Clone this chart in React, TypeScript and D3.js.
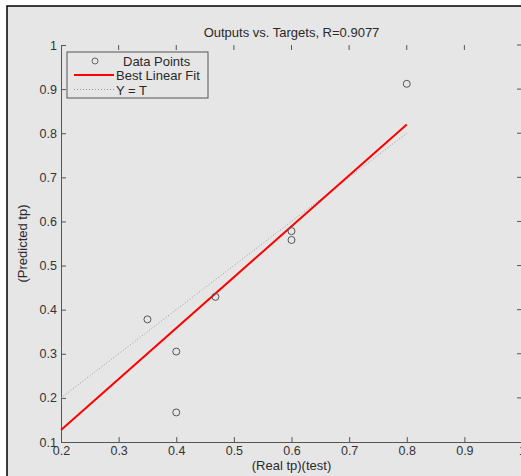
import React, { useEffect, useRef } from 'react';
import * as d3 from 'd3';

// targets (x) and network outputs (y)
const targets = [0.35, 0.4, 0.4, 0.468, 0.6, 0.6, 0.8];
const outputs = [0.378, 0.305, 0.167, 0.429, 0.578, 0.558, 0.912];
// best linear fit, end points
const fitX = [0.2, 0.8];
const fitY = [0.127, 0.82];
// Y = T reference
const idealX = [0.2, 0.8];
const xTicks = [0.2, 0.3, 0.4, 0.5, 0.6, 0.7, 0.8, 0.9, 1];
const yTicks = [0.1, 0.2, 0.3, 0.4, 0.5, 0.6, 0.7, 0.8, 0.9, 1];

const W = 521;
const H = 476;
const FONT = "'Liberation Sans', Arial, sans-serif";

function App() {
  const ref = useRef<SVGSVGElement>(null);

  useEffect(() => {
    const svg = d3.select(ref.current);
    svg.selectAll('*').remove();

    const margin = { top: 45, right: 0, bottom: 34, left: 61 };
    const x = d3.scaleLinear().domain([0.2, 1]).range([margin.left, W - margin.right + 1]);
    const y = d3.scaleLinear().domain([0.1, 1]).range([H - margin.bottom, margin.top]);

    // figure background + border
    svg.append('rect').attr('x', 7).attr('y', 6).attr('width', W).attr('height', H)
      .attr('fill', '#e6e6e6').attr('stroke', '#000').attr('stroke-width', 1.5);

    const axisCol = '#555';
    const fmt = (d: number) => (d === 1 ? '1' : d3.format('.1f')(d));

    // bottom axis
    const gx = svg.append('g').attr('transform', `translate(0,${y(0.1)})`)
      .call(d3.axisBottom(x).tickValues(xTicks).tickFormat(fmt as any).tickSizeInner(-5).tickSizeOuter(0).tickPadding(4));
    gx.select('.domain').attr('stroke', axisCol);
    gx.selectAll('.tick line').attr('stroke', axisCol);
    gx.selectAll('text').attr('fill', '#333').style('font-family', FONT).style('font-size', '12.5px');

    // left axis
    const gy = svg.append('g').attr('transform', `translate(${x(0.2)},0)`)
      .call(d3.axisLeft(y).tickValues(yTicks).tickFormat(fmt as any).tickSizeInner(-5).tickSizeOuter(0).tickPadding(4));
    gy.select('.domain').attr('stroke', axisCol);
    gy.selectAll('.tick line').attr('stroke', axisCol);
    gy.selectAll('text').attr('fill', '#333').style('font-family', FONT).style('font-size', '12.5px');

    // top ticks (no line)
    svg.append('g').selectAll('line').data(xTicks.slice(1)).enter().append('line')
      .attr('x1', d => x(d)).attr('x2', d => x(d))
      .attr('y1', y(1)).attr('y2', y(1) + 5).attr('stroke', axisCol);
    // right ticks
    svg.append('g').selectAll('line').data(yTicks.slice(1)).enter().append('line')
      .attr('x1', x(1) - 5).attr('x2', x(1))
      .attr('y1', d => y(d)).attr('y2', d => y(d)).attr('stroke', axisCol);

    // Y = T
    svg.append('line')
      .attr('x1', x(idealX[0])).attr('y1', y(idealX[0]))
      .attr('x2', x(idealX[1])).attr('y2', y(idealX[1]))
      .attr('stroke', '#9a9a9a').attr('stroke-dasharray', '1,2');

    // best fit
    svg.append('line')
      .attr('x1', x(fitX[0])).attr('y1', y(fitY[0]))
      .attr('x2', x(fitX[1])).attr('y2', y(fitY[1]))
      .attr('stroke', '#ff0000').attr('stroke-width', 2);

    // data points
    svg.append('g').selectAll('circle').data(targets).enter().append('circle')
      .attr('cx', d => x(d)).attr('cy', (_, i) => y(outputs[i]))
      .attr('r', 3.5).attr('fill', 'none').attr('stroke', '#555');

    // title and labels
    svg.append('text').attr('x', (x(0.2) + x(1)) / 2).attr('y', 37)
      .attr('text-anchor', 'middle').style('font-family', FONT).style('font-size', '13px')
      .attr('fill', '#2a2a2a').text('Outputs vs. Targets, R=0.9077');
    svg.append('text').attr('x', (x(0.2) + x(1)) / 2).attr('y', 470)
      .attr('text-anchor', 'middle').style('font-family', FONT).style('font-size', '13px')
      .attr('fill', '#2a2a2a').text('(Real tp)(test)');
    svg.append('text').attr('transform', `translate(27,${y(0.55)}) rotate(-90)`)
      .attr('text-anchor', 'middle').style('font-family', FONT).style('font-size', '13px')
      .attr('fill', '#2a2a2a').text('(Predicted tp)');

    // legend
    const lg = svg.append('g');
    lg.append('rect').attr('x', 67).attr('y', 52).attr('width', 141).attr('height', 46)
      .attr('fill', '#e6e6e6').attr('stroke', axisCol);
    lg.append('circle').attr('cx', 95).attr('cy', 61).attr('r', 3)
      .attr('fill', 'none').attr('stroke', '#666');
    lg.append('line').attr('x1', 74).attr('x2', 114).attr('y1', 75).attr('y2', 75)
      .attr('stroke', '#ff0000').attr('stroke-width', 2);
    lg.append('line').attr('x1', 74).attr('x2', 114).attr('y1', 89.5).attr('y2', 89.5)
      .attr('stroke', '#9a9a9a').attr('stroke-dasharray', '1,2');
    const items = [['Data Points', 123, 65.5], ['Best Linear Fit', 116, 79.5], ['Y = T', 116, 94.5]];
    items.forEach(([t, tx, ty]) => {
      lg.append('text').attr('x', tx as number).attr('y', ty as number)
        .style('font-family', FONT).style('font-size', '13px').attr('fill', '#2a2a2a').text(t as string);
    });
  }, []);

  return (
    <svg ref={ref} width={W} height={H}
      style={{ position: 'absolute', left: 0, top: 0, background: '#fff' }} />
  );
}

export default App;
